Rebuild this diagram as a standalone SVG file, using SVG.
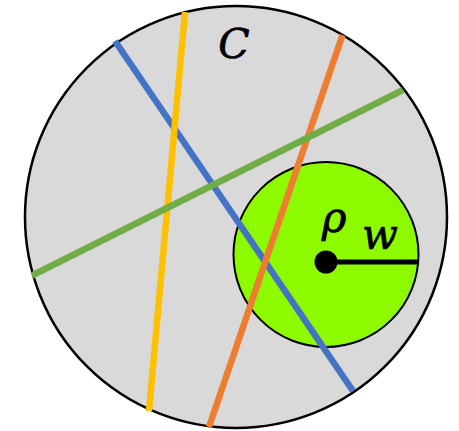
<svg xmlns="http://www.w3.org/2000/svg" width="459" height="431" viewBox="0 0 459 431">
<style>
.lbl{font-family:"DejaVu Serif","Liberation Serif",serif;font-style:italic;fill:#000;stroke:#000;stroke-width:0.7;text-anchor:middle}
.ln{stroke-width:6.5;stroke-linecap:butt;fill:none}
</style>
<rect width="459" height="431" fill="#fff"/>
<g id="region-C">
<circle cx="236" cy="217" r="211" fill="#d9d9d9" stroke="#000" stroke-width="2.5"/>
<text class="lbl" x="234" y="58" font-size="41">C</text>
</g>
<g id="disk-rho">
<circle cx="326" cy="254.5" r="92.5" fill="#8efa00" stroke="#000" stroke-width="2"/>
</g>
<g id="connectors">
<line class="ln" x1="115" y1="41" x2="353" y2="391" stroke="#4472c4"/>
<line class="ln" x1="342.5" y1="35" x2="209" y2="427" stroke="#ed7d31"/>
<line class="ln" x1="185" y1="12" x2="149" y2="411" stroke="#ffc000"/>
<line class="ln" x1="403" y1="90" x2="32" y2="275.5" stroke="#70ad47"/>
</g>
<g id="center-rho">
<line x1="326" y1="262" x2="418" y2="262" stroke="#000" stroke-width="5"/>
<circle cx="326" cy="262" r="11.5" fill="#000"/>
<text class="lbl" x="334" y="232" font-size="42">ρ</text>
<text class="lbl" x="380" y="249" font-size="42">w</text>
</g>
</svg>
